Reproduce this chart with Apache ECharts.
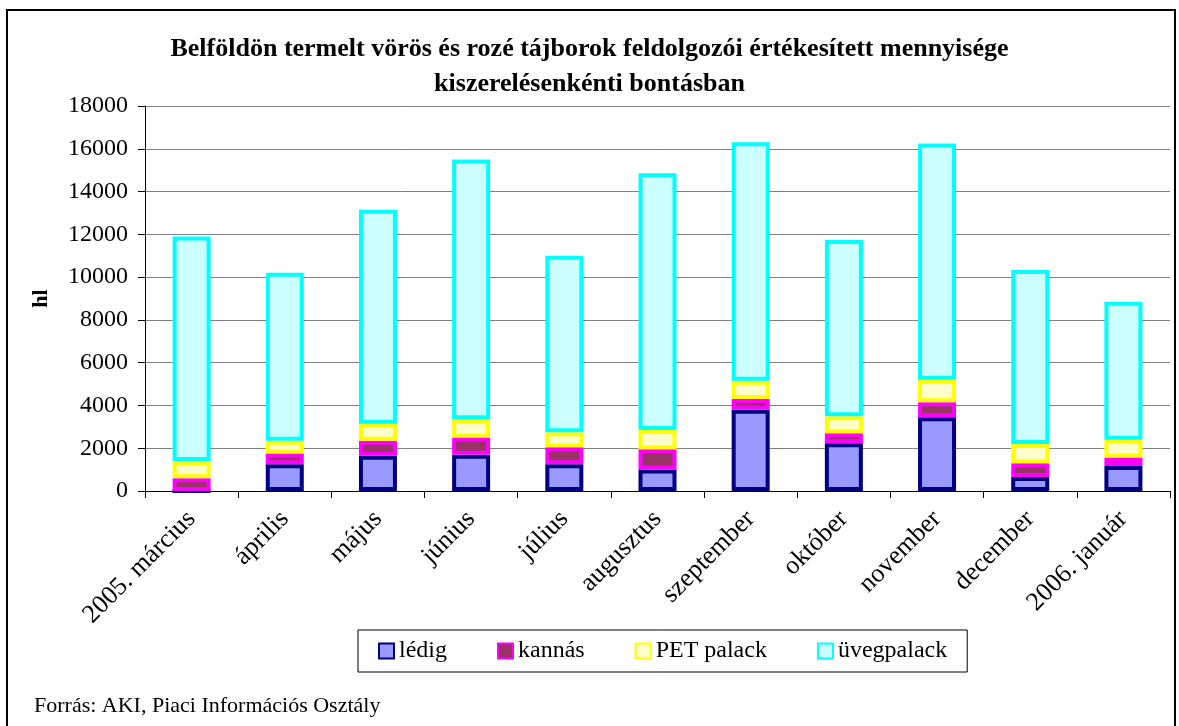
<!DOCTYPE html>
<html>
<head>
<meta charset="utf-8">
<script src="https://cdn.jsdelivr.net/npm/echarts@6/dist/echarts.min.js"></script>
<style>
  html, body { margin: 0; padding: 0; background: #fff; }
  #chart { width: 1179px; height: 726px; }
</style>
</head>
<body>
<div id="chart"></div>
<script>
  // havi kategóriák
  var categories = ['2005. március', 'április', 'május', 'június', 'július', 'augusztus',
    'szeptember', 'október', 'november', 'december', '2006. január']
  var ledig = [0, 1250, 1650, 1700, 1250, 1000, 3800, 2230, 3450, 650, 1170]
  var kannas = [600, 500, 700, 800, 800, 950, 500, 470, 700, 650, 400]
  var petPalack = [800, 600, 800, 850, 700, 900, 850, 800, 1050, 900, 830]
  var uvegpalack = [10500, 7850, 10000, 12150, 8250, 12000, 11150, 8230, 11050, 8130, 6450]
  var yTicks = [0, 2000, 4000, 6000, 8000, 10000, 12000, 14000, 16000, 18000]

  var font = 'Liberation Serif'

  function makeSeries(name, data, fill, border) {
    return {
      name: name,
      type: 'bar',
      stack: 'total',
      data: data,
      barWidth: 38,
      itemStyle: { color: fill, borderColor: border, borderWidth: 4 },
      emphasis: { disabled: true }
    }
  }

  var chart = echarts.init(document.getElementById('chart'))
  chart.setOption({
    animation: false,
    backgroundColor: '#fff',
    textStyle: { fontFamily: font, color: '#000' },
    title: {
      text: 'Belföldön termelt vörös és rozé tájborok feldolgozói értékesített mennyisége\nkiszerelésenkénti bontásban',
      left: 'center',
      top: 27,
      textStyle: { fontFamily: font, fontWeight: 'bold', fontSize: 26, lineHeight: 35, color: '#000' }
    },
    grid: { left: 145, right: 9, top: 106, bottom: 235 },
    legend: {
      left: 358,
      top: 630,
      padding: [9, 20],
      itemGap: 50,
      itemWidth: 15,
      itemHeight: 15,
      itemTextGap: 4,
      icon: 'rect',
      borderColor: '#000',
      borderWidth: 1,
      borderRadius: 0,
      textStyle: { fontFamily: font, fontSize: 24, color: '#000' },
      data: ['lédig', 'kannás', 'PET palack', 'üvegpalack']
    },
    xAxis: {
      type: 'category',
      data: categories,
      axisLine: { lineStyle: { color: '#000', width: 1 } },
      axisTick: { show: true, length: 7, lineStyle: { color: '#000' } },
      axisLabel: { rotate: 45, fontFamily: font, fontSize: 26, color: '#000', margin: 24 }
    },
    yAxis: {
      type: 'value',
      min: yTicks[0],
      max: yTicks[yTicks.length - 1],
      interval: 2000,
      name: 'hl',
      nameLocation: 'middle',
      nameRotate: 90,
      nameGap: 93,
      nameTextStyle: { fontFamily: font, fontWeight: 'bold', fontSize: 22, color: '#000' },
      axisLine: { show: true, lineStyle: { color: '#000', width: 1 } },
      axisTick: { show: true, length: 7, lineStyle: { color: '#000' } },
      axisLabel: {
        fontFamily: font, fontSize: 24, color: '#000', margin: 17,
        formatter: function (v) { return String(v) }
      },
      splitLine: { show: true, lineStyle: { color: '#808080', width: 1 } }
    },
    series: [
      makeSeries('lédig', ledig, '#9999FF', '#000080'),
      makeSeries('kannás', kannas, '#993366', '#FF00FF'),
      makeSeries('PET palack', petPalack, '#FFFFCC', '#FFFF00'),
      makeSeries('üvegpalack', uvegpalack, '#CCFFFF', '#00FFFF')
    ],
    graphic: [
      {
        type: 'rect',
        shape: { x: 7, y: 10, width: 1168, height: 730 },
        style: { fill: 'none', stroke: '#000', lineWidth: 2 },
        silent: true
      },
      {
        type: 'text',
        left: 34,
        top: 695,
        style: { text: 'Forrás: AKI, Piaci Információs Osztály', font: '22px "Liberation Serif"', fill: '#000' },
        silent: true
      }
    ]
  })
</script>
</body>
</html>
